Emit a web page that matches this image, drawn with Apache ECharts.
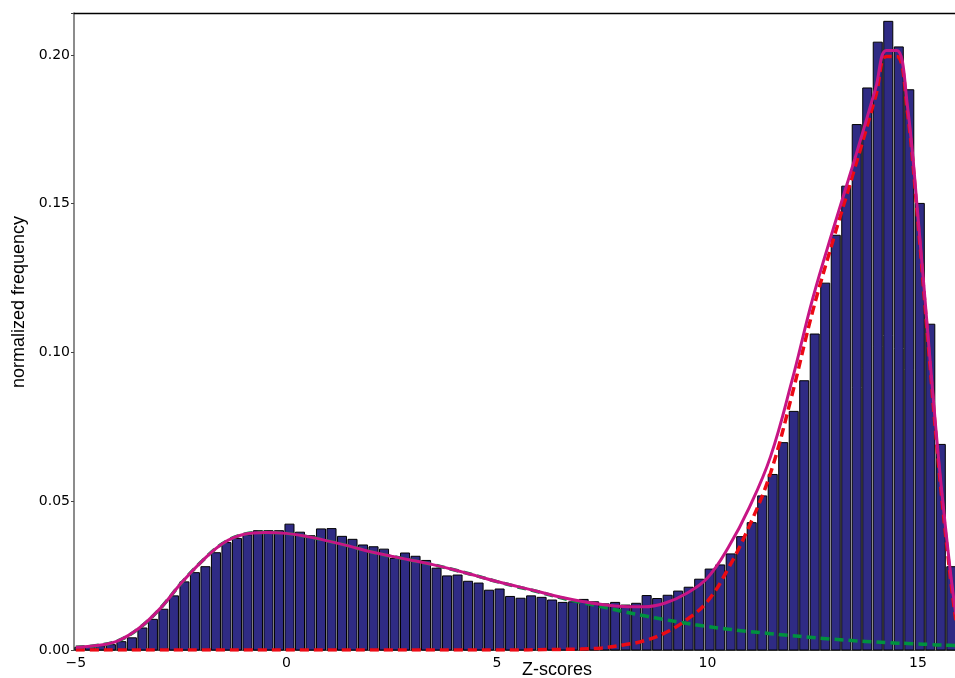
<!DOCTYPE html>
<html>
<head>
<meta charset="utf-8">
<script src="https://cdn.jsdelivr.net/npm/echarts@6/dist/echarts.min.js"></script>
<style>
html,body{margin:0;padding:0;background:#fff;overflow:hidden}
#c{width:955px;height:678px}
</style>
</head>
<body>
<div id="c"></div>
<script>
// ---- data ----
const binStart = -5.04;
const binWidth = 0.2495;
const freq = [
  0.0009, 0.0011, 0.0014, 0.0018, 0.0028, 0.0041, 0.0074, 0.0103, 0.0137, 0.0182,
  0.0229, 0.0260, 0.0280, 0.0327, 0.0361, 0.0375, 0.0387, 0.0401, 0.0401, 0.0401,
  0.0423, 0.0396, 0.0384, 0.0407, 0.0408, 0.0382, 0.0372, 0.0353, 0.0347, 0.0339,
  0.0308, 0.0326, 0.0315, 0.0301, 0.0275, 0.0249, 0.0252, 0.0231, 0.0225, 0.0201,
  0.0205, 0.0180, 0.0174, 0.0182, 0.0177, 0.0168, 0.0160, 0.0162, 0.0170, 0.0162,
  0.0155, 0.0160, 0.0151, 0.0157, 0.0183, 0.0173, 0.0184, 0.0198, 0.0211, 0.0238,
  0.0272, 0.0286, 0.0323, 0.0381, 0.0428, 0.0518, 0.0590, 0.0697, 0.0802, 0.0905,
  0.1062, 0.1233, 0.1394, 0.1559, 0.1766, 0.1889, 0.2043, 0.2113, 0.2027, 0.1883,
  0.1501, 0.1095, 0.0691, 0.0280
];
const curveX = [-5,-4.5,-4,-3.5,-3,-2.5,-2,-1.5,-1,-0.5,0,0.5,1,1.5,2,2.5,3,3.5,4,4.5,
  5,5.5,6,6.5,7,7.5,8,8.5,9,9.5,10,10.5,11,11.5,12,12.5,13,13.5,14,14.25,14.5,14.75,
  15,15.25,15.5,15.75,15.9];
const totalFit = [0.0009,0.0015,0.0031,0.0073,0.0139,0.0224,0.0299,0.0359,0.0389,0.0395,
  0.0392,0.0381,0.0366,0.0349,0.0330,0.0315,0.0301,0.0286,0.0269,0.0250,
  0.0230,0.0213,0.0196,0.0178,0.0164,0.0153,0.0146,0.0145,0.0158,0.0190,
  0.0242,0.0345,0.0480,0.0650,0.0900,0.1180,0.1420,0.1650,0.1890,0.2015,0.2015,0.1830,
  0.1460,0.1040,0.0630,0.0290,0.0120];
const leftFit = [0.0009,0.0015,0.0031,0.0073,0.0139,0.0224,0.0299,0.0359,0.0389,0.0395,
  0.0392,0.0381,0.0366,0.0349,0.0330,0.0315,0.0301,0.0286,0.0269,0.0250,
  0.0230,0.0212,0.0195,0.0176,0.0160,0.0145,0.0129,0.0115,0.0102,0.0090,
  0.0079,0.0070,0.0062,0.0055,0.0048,0.0042,0.0036,0.0031,0.0027,0.0025,0.0023,0.0022,
  0.0020,0.0019,0.0017,0.0016,0.0015];
const rightFit = [0,0,0,0,0,0,0,0,0,0,
  0,0,0,0,0,0,0,0,0,0,
  0,0,0.0001,0.0002,0.0003,0.0007,0.0017,0.0031,0.0058,0.0101,
  0.0163,0.0275,0.0418,0.0595,0.0852,0.1138,0.1384,0.1619,0.1863,0.1995,0.1995,0.1810,
  0.1440,0.1020,0.0610,0.0270,0.0100];
const xTicks = [-5, 0, 5, 10, 15];
const yTicks = [0, 0.05, 0.10, 0.15, 0.20];
const xMin = -5.043, xMax = 17.9, yMax = 0.2141;

// ---- chart ----
const chart = echarts.init(document.getElementById('c'), null, {renderer: 'canvas'});
const barData = freq.map((v, i) => [binStart + (i + 0.5) * binWidth, v]);
const line = (vals) => curveX.map((x, i) => [x, vals[i]]);

chart.setOption({
  animation: false,
  backgroundColor: '#ffffff',
  grid: {left: 74, right: -85, top: 13, bottom: 28, containLabel: false, outerBoundsMode: 'none'},
  xAxis: [{
    type: 'value', min: xMin, max: xMax, position: 'bottom', splitNumber: 5,
    axisLine: {show: true, onZero: false, lineStyle: {color: '#555', width: 1.2}},
    axisTick: {show: false},
    splitLine: {show: false},
    axisLabel: {
      color: '#000', fontFamily: 'DejaVu Sans', fontSize: 14, margin: 6,
      formatter: v => xTicks.some(t => Math.abs(t - v) < 1e-6) ? (v < 0 ? '\u2212' + (-v) : String(v)) : ''
    },
    name: 'Z-scores', nameLocation: 'middle', nameGap: 11, nameMoveOverlap: false,
    nameTextStyle: {color: '#000', fontFamily: 'Liberation Sans', fontSize: 18, verticalAlign: 'top'}
  }, {
    type: 'value', min: xMin, max: xMax, position: 'top',
    axisLine: {show: true, onZero: false, lineStyle: {color: '#000', width: 1.3}},
    axisTick: {show: false}, axisLabel: {show: false}, splitLine: {show: false}
  }],
  yAxis: {
    type: 'value', min: 0, max: yMax, interval: 0.05,
    axisLine: {show: true, onZero: false, lineStyle: {color: '#666', width: 1.5}},
    axisTick: {show: true, inside: false, length: 3, lineStyle: {color: '#444'}},
    splitLine: {show: false},
    axisLabel: {
      color: '#000', fontFamily: 'DejaVu Sans', fontSize: 14, margin: 4,
      formatter: v => yTicks.some(t => Math.abs(t - v) < 1e-6) ? v.toFixed(2) : ''
    },
    name: 'normalized frequency', nameLocation: 'middle', nameRotate: 90, nameGap: 46, nameMoveOverlap: false,
    nameTextStyle: {color: '#000', fontFamily: 'Liberation Sans', fontSize: 18, padding: [0, 0, 0, 59]}
  },
  series: [{
    type: 'custom', xAxisIndex: 0, z: 1,
    data: barData,
    encode: {x: 0, y: 1},
    renderItem: (params, api) => {
      const c = api.value(0), v = api.value(1);
      const half = binWidth * 0.43;
      const p0 = api.coord([c - half, v]);
      const p1 = api.coord([c + half, 0]);
      return {
        type: 'rect',
        shape: {x: p0[0], y: p0[1], width: p1[0] - p0[0], height: p1[1] - p0[1]},
        style: {fill: '#2f2b84', stroke: '#000', lineWidth: 1}
      };
    }
  }, {
    type: 'line', name: 'left component', xAxisIndex: 0, z: 3, data: line(leftFit),
    showSymbol: false, symbol: 'none', smooth: 0.4,
    lineStyle: {color: '#00913f', width: 3.5, type: [9, 5]}
  }, {
    type: 'line', name: 'right component', xAxisIndex: 0, z: 4, data: line(rightFit),
    showSymbol: false, symbol: 'none', smooth: 0.4,
    lineStyle: {color: '#ec0a14', width: 3.5, type: [9, 5]}
  }, {
    type: 'line', name: 'total', xAxisIndex: 0, z: 5, data: line(totalFit),
    showSymbol: false, symbol: 'none', smooth: 0.4,
    lineStyle: {color: '#c71585', width: 3}
  }]
});
</script>
</body>
</html>
